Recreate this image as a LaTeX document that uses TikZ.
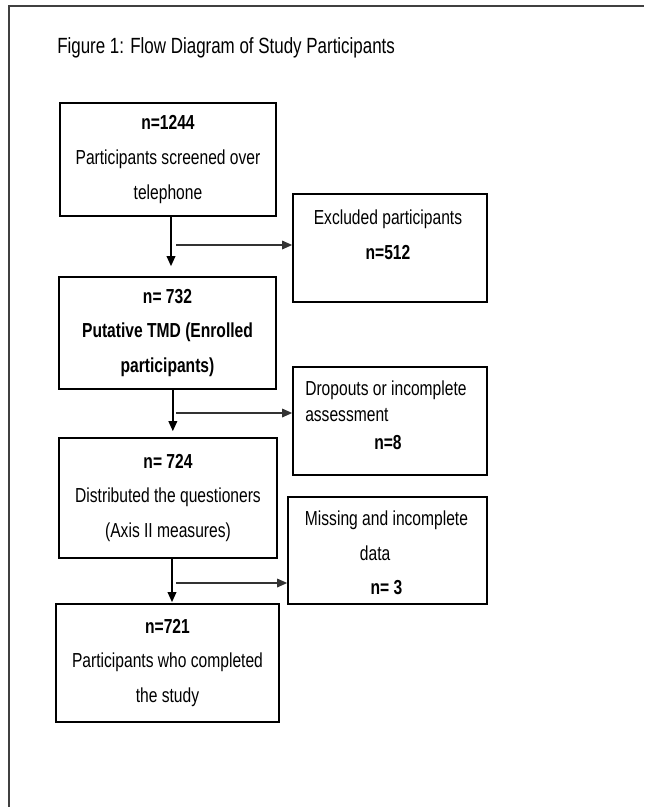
\documentclass[tikz,border=0pt]{standalone}
\usepackage{fontspec}
\setmainfont[FakeStretch=0.77]{Liberation Sans}
\usetikzlibrary{arrows.meta}

\tikzset{
  stage/.style={draw, line width=1.3pt, align=center, inner sep=0pt, font=\fontsize{15.2}{25.9}\selectfont},
  side/.style={draw, line width=1.3pt, inner sep=0pt},
  sidetext/.style={inner sep=0pt, font=\fontsize{15.2}{26}\selectfont},
  down/.style={line width=1.1pt, -{Triangle[length=7.5pt,width=6.5pt]}},
  aside/.style={draw=black!80, line width=0.9pt, -{Triangle[length=7.5pt,width=6.5pt]}},
}

\begin{document}
\begin{tikzpicture}[x=0.75pt,y=0.75pt,yscale=-1,xscale=1]
\useasboundingbox (0,0) rectangle (644,807);

%Frame
\draw [black!75, line width=1.1pt] (9,807) -- (9,6) -- (644,6) ;

% Title
\node [anchor=base west, inner sep=0pt, font=\fontsize{16.5}{18}\selectfont] (title) at (57,53) {Figure 1: Flow Diagram of Study Participants};

%Main boxes
\node [stage, minimum width=162pt, minimum height=84.75pt] (screened) at (168,159.5) {\textbf{n=1244}\\Participants screened over\\telephone};
\node [stage, minimum width=162.75pt, minimum height=84pt, font=\fontsize{15.2}{25.9}\selectfont\bfseries] (enrolled) at (167.5,333) {n= 732\\Putative TMD (Enrolled\\participants)};
\node [stage, minimum width=163.5pt, minimum height=90pt] (distributed) at (168,498) {\textbf{n= 724}\\Distributed the questioners\\(Axis II measures)};
\node [stage, minimum width=167.25pt, minimum height=88.5pt] (completed) at (167.5,663) {\textbf{n=721}\\Participants who completed\\the study};

%Side boxes
\node [side, minimum width=145.5pt, minimum height=81pt] (excluded) at (390,248) {};
\node [side, minimum width=145.5pt, minimum height=81pt] (dropouts) at (390,421) {};
\node [side, minimum width=149.25pt, minimum height=80.25pt] (missing) at (387.5,550.5) {};

% Text Node
\node [sidetext, align=center] (excludedtext) at (388,234.5) {Excluded participants\\\textbf{n=512}};
% Text Node
\node [sidetext, align=left, anchor=west, font=\fontsize{15.2}{19.5}\selectfont] (dropoutstext) at (305,401) {Dropouts or incomplete\\assessment};
\node [sidetext] (dropoutsn) at (388,443) {\textbf{n=8}};
% Text Node
\node [sidetext, align=center] (missingtext) at (386.5,553) {Missing and incomplete\\data\hspace{17pt}\mbox{}\\\textbf{n= 3}};

%Down arrows
\draw [down, shorten >=7.5pt] ([xshift=2.25pt]screened.south) -- ([xshift=2.25pt]screened.south |- enrolled.north) ;
\draw [down, shorten >=4.5pt] ([xshift=4pt]enrolled.south) -- ([xshift=4pt]enrolled.south |- distributed.north) ;
\draw [down, shorten >=0.75pt] ([xshift=3pt]distributed.south) -- ([xshift=3pt]distributed.south |- completed.north) ;

%Side arrows
\coordinate (out1) at (176,245);
\coordinate (out2) at (176,413);
\coordinate (out3) at (176,583);
\draw [aside] (out1) -- (out1 -| excluded.west) ;
\draw [aside] (out2) -- (out2 -| dropouts.west) ;
\draw [aside] (out3) -- (out3 -| missing.west) ;

\end{tikzpicture}
\end{document}
